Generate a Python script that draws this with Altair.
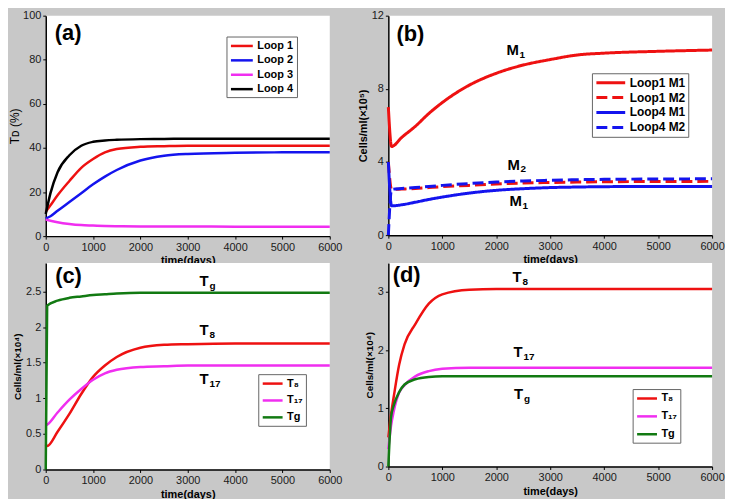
import altair as alt
import pandas as pd

RED = "#ee1111"
BLUE = "#1414ee"
MAGENTA = "#f02ef0"
BLACK = "#000000"
GREEN = "#127a12"
BG = "#c8c8c8"
FONT = "Liberation Sans"

x_ticks = [0, 1000, 2000, 3000, 4000, 5000, 6000]

# ---------------- panel (a) ----------------
a_time = [0, 100, 250, 500, 750, 1000, 1250, 1500, 2000, 2500, 3000, 4000, 5000, 6000]
a_loop1 = [11, 14, 18.5, 25, 31, 35, 38, 39.5, 40.5, 40.8, 41, 41, 41, 41]
a_loop2 = [8, 9, 11.5, 15.5, 19.5, 23.5, 27, 30, 34.3, 36.5, 37.3, 37.8, 38, 38]
a_loop3 = [7.5, 7, 6.3, 5.5, 5, 4.8, 4.6, 4.5, 4.4, 4.4, 4.4, 4.3, 4.3, 4.3]
a_loop4 = [10, 19.5, 29, 36.7, 41, 42.8, 43.4, 43.7, 44, 44.1, 44.2, 44.2, 44.2, 44.2]
a_names = ["Loop 1", "Loop 2", "Loop 3", "Loop 4"]
a_colors = [RED, BLUE, MAGENTA, BLACK]
a_yticks = [0, 20, 40, 60, 80, 100]

# ---------------- panel (b) ----------------
b_time = [0, 60, 250, 500, 750, 1000, 1500, 2000, 2500, 3000, 3500, 4000, 5000, 6000]
b_l1m1 = [7.0, 4.85, 5.35, 5.95, 6.65, 7.25, 8.2, 8.85, 9.3, 9.6, 9.85, 9.95, 10.05, 10.12]
b_l1m2 = [4.0, 2.5, 2.52, 2.55, 2.6, 2.65, 2.72, 2.8, 2.85, 2.88, 2.9, 2.92, 2.93, 2.94]
b_l4m1 = [4.0, 1.6, 1.66, 1.8, 1.95, 2.08, 2.3, 2.45, 2.54, 2.6, 2.63, 2.65, 2.66, 2.66]
b_l4m2 = [0.0, 2.5, 2.55, 2.6, 2.66, 2.72, 2.82, 2.9, 2.96, 3.0, 3.03, 3.05, 3.07, 3.08]
b_names = ["Loop1 M1", "Loop1 M2", "Loop4 M1", "Loop4 M2"]
b_colors = [RED, RED, BLUE, BLUE]
b_dashes = [[1, 0], [11, 5], [1, 0], [11, 5]]
b_yticks = [0, 2, 4, 6, 8, 10, 12]
b_ann_x = [2190, 2210, 2245]
b_ann_y = [10.1, 3.86, 1.87]
b_ann_main = ["M", "M", "M"]
b_ann_sub = ["1", "2", "1"]

# ---------------- panel (c) ----------------
c_time = [0, 30, 250, 500, 750, 1000, 1250, 1500, 2000, 2500, 3000, 4000, 5000, 6000]
c_t8 = [0.35, 0.33, 0.53, 0.78, 1.06, 1.3, 1.46, 1.58, 1.71, 1.75, 1.76, 1.77, 1.77, 1.77]
c_t17 = [0.62, 0.63, 0.8, 0.98, 1.13, 1.26, 1.35, 1.4, 1.44, 1.45, 1.46, 1.46, 1.46, 1.46]
c_tg = [0.0, 2.3, 2.37, 2.41, 2.43, 2.45, 2.46, 2.47, 2.48, 2.48, 2.48, 2.48, 2.48, 2.48]
c_yticks = [0, 0.5, 1, 1.5, 2, 2.5]
c_ann_x = [3250, 3250, 3250]
c_ann_y = [2.64, 1.96, 1.27]
c_ann_main = ["T", "T", "T"]
c_ann_sub = ["g", "8", "17"]

# ---------------- panel (d) ----------------
d_time = [0, 50, 100, 200, 300, 500, 750, 1000, 1500, 2000, 3000, 4000, 5000, 6000]
d_t8 = [0.5, 0.9, 1.2, 1.75, 2.1, 2.45, 2.8, 2.96, 3.04, 3.05, 3.05, 3.05, 3.05, 3.05]
d_t17 = [0.3, 0.7, 0.95, 1.27, 1.4, 1.55, 1.64, 1.68, 1.7, 1.7, 1.7, 1.7, 1.7, 1.7]
d_tg = [0.0, 0.85, 1.05, 1.28, 1.41, 1.5, 1.54, 1.55, 1.55, 1.55, 1.55, 1.55, 1.55, 1.55]
d_yticks = [0, 0.5, 1, 1.5, 2, 2.5, 3, 3.5]
d_ann_x = [2300, 2320, 2330]
d_ann_y = [3.26, 1.97, 1.25]
d_ann_main = ["T", "T", "T"]
d_ann_sub = ["8", "17", "g"]

t_names = ["T\u2088", "T\u2081\u2087", "Tg"]
t_colors = [RED, MAGENTA, GREEN]

letters = ["(a)", "(b)", "(c)", "(d)"]
letter_x = [190, 150, 200, 80]
letter_y = [92.3, 11.0, 2.72, 3.29]

SYM = 10  # nominal legend symbol size (px)


def long_df(time, series, names):
    rows = []
    for vals, name in zip(series, names):
        for t, v in zip(time, vals):
            rows.append({"t": t, "v": v, "s": name})
    return pd.DataFrame(rows)


def panel(df, names, colors, ydom, yticks, ytitle, ytitle_bold, ytitle_size,
          width, height, leg_x, leg_y, line_len, row_pad, label_size,
          letter_idx, dashes=None, ann=None, sub_dx=10, stroke_w=2.5, title_pad=3):
    x_enc = alt.X("t:Q", scale=alt.Scale(domain=[0, 6000], nice=False),
                  axis=alt.Axis(values=x_ticks, format="d", title="time(days)",
                                labelFlush=False))
    y_enc = alt.Y("v:Q", scale=alt.Scale(domain=ydom, nice=False),
                  axis=alt.Axis(values=yticks, format="~r", title=ytitle,
                                titleFontWeight="bold" if ytitle_bold else "normal",
                                titleFontSize=ytitle_size, titlePadding=title_pad))
    ext = 2.0 * line_len / SYM - 1.0
    leg = alt.Legend(title=None, orient="none", legendX=leg_x, legendY=leg_y,
                     symbolType="M-1,0H%.2f" % ext, symbolSize=SYM * SYM,
                     symbolStrokeWidth=stroke_w, symbolFillColor="transparent",
                     labelFontSize=label_size,
                     labelFontWeight="bold", labelFont=FONT, labelColor="black",
                     strokeColor="#666666", fillColor="white", padding=3,
                     rowPadding=row_pad, labelOffset=3 + line_len - SYM)
    enc = dict(
        x=x_enc, y=y_enc,
        color=alt.Color("s:N", scale=alt.Scale(domain=names, range=colors), legend=leg),
    )
    if dashes is not None:
        enc["strokeDash"] = alt.StrokeDash("s:N", scale=alt.Scale(domain=names, range=dashes),
                                           legend=leg)
    lines = alt.Chart(df).mark_line(strokeWidth=stroke_w, interpolate="monotone").encode(**enc)
    layers = [lines]
    if ann is not None:
        adf = pd.DataFrame({"t": ann[0], "v": ann[1], "main": ann[2], "sub": ann[3]})
        main = alt.Chart(adf).mark_text(align="left", baseline="middle", fontSize=15,
                                        fontWeight="bold", font=FONT, color="black").encode(
            x="t:Q", y="v:Q", text="main:N")
        sub = alt.Chart(adf).mark_text(align="left", baseline="middle", fontSize=10,
                                       fontWeight="bold", font=FONT, color="black",
                                       dx=sub_dx, dy=5).encode(
            x="t:Q", y="v:Q", text="sub:N")
        layers += [main, sub]
    ldf = pd.DataFrame({"t": [letter_x[letter_idx]], "v": [letter_y[letter_idx]],
                        "lab": [letters[letter_idx]]})
    let = alt.Chart(ldf).mark_text(align="left", baseline="middle", fontSize=22,
                                   fontWeight="bold", font=FONT, color="black").encode(
        x="t:Q", y="v:Q", text="lab:N")
    layers.append(let)
    return alt.layer(*layers).properties(width=width, height=height)


pa = panel(long_df(a_time, [a_loop1, a_loop2, a_loop3, a_loop4], a_names), a_names, a_colors,
           [0, 100], a_yticks, "T\u1d05 (%)", False, 12, 286, 222, 182, 21, 22, 2.5, 11, 0,
           title_pad=1)
pb = panel(long_df(b_time, [b_l1m1, b_l1m2, b_l4m1, b_l4m2], b_names), b_names, b_colors,
           [0, 12], b_yticks, "Cells/ml(\u00d710\u2075)", True, 11, 326, 221, 205, 58, 29, 2, 12, 1,
           dashes=b_dashes, ann=(b_ann_x, b_ann_y, b_ann_main, b_ann_sub), sub_dx=13, stroke_w=3)
pc = panel(long_df(c_time, [c_t8, c_t17, c_tg], t_names), t_names, t_colors,
           [0, 2.9], c_yticks, "Cells/ml(\u00d710\u2074)", True, 10, 286, 208, 214, 112, 20, 5, 11, 2,
           ann=(c_ann_x, c_ann_y, c_ann_main, c_ann_sub), sub_dx=10)
pd_ = panel(long_df(d_time, [d_t8, d_t17, d_tg], t_names), t_names, t_colors,
            [0, 3.5], d_yticks, "Cells/ml(\u00d710\u2074)", True, 10, 326, 205, 246, 127, 20, 6, 11, 3,
            ann=(d_ann_x, d_ann_y, d_ann_main, d_ann_sub), sub_dx=10)

chart = alt.concat(
    pa, pb, pc, pd_, columns=2, spacing={"row": 27, "column": 59}, bounds="flush"
).resolve_scale(
    color="independent", strokeDash="independent", x="independent", y="independent"
).resolve_legend(color="independent", strokeDash="independent").configure(
    background=BG, padding=0, font=FONT
).configure_view(
    fill="white", stroke=None
).configure_axis(
    grid=False, domainColor="black", domainWidth=1.5, tickColor="black", tickSize=3,
    labelFont=FONT, labelFontSize=11, labelColor="#1a1a1a", labelPadding=2,
    titleFont=FONT, titleFontSize=11, titleFontWeight="bold", titleColor="black",
    titlePadding=3
)

chart.save("out.html", embed_options={"renderer": "svg", "actions": False})
